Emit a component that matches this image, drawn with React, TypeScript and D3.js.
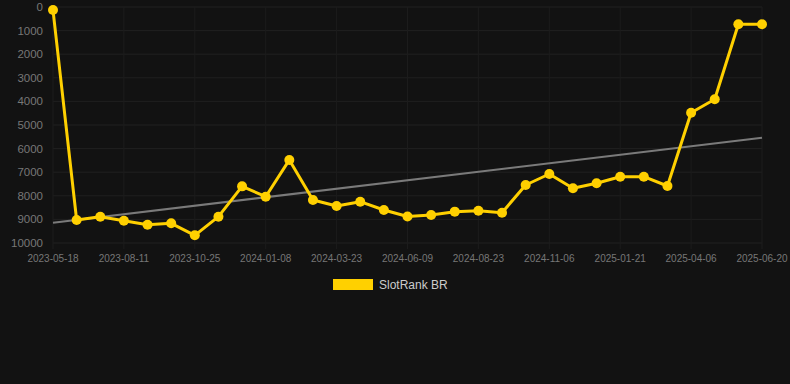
import React from "react";
import * as d3 from "d3";

const dates = [
  "2023-05-18", "2023-06-15", "2023-07-13", "2023-08-11", "2023-09-05", "2023-09-30",
  "2023-10-25", "2023-11-19", "2023-12-14", "2024-01-08", "2024-02-02", "2024-02-27",
  "2024-03-23", "2024-04-17", "2024-05-15", "2024-06-09", "2024-07-04", "2024-07-29",
  "2024-08-23", "2024-09-17", "2024-10-12", "2024-11-06", "2024-12-01", "2024-12-26",
  "2025-01-21", "2025-02-15", "2025-03-12", "2025-04-06", "2025-05-01", "2025-05-26",
  "2025-06-20",
];

const rankValues = [
  130, 9025, 8885, 9055, 9225, 9165, 9675, 8885, 7600, 8040, 6480, 8180,
  8430, 8250, 8600, 8880, 8814, 8672, 8630, 8715, 7542, 7076, 7683, 7470,
  7190, 7190, 7585, 4478, 3911, 733, 733,
];

const trendValues = [9140, 5540];

const yTicks = [0, 1000, 2000, 3000, 4000, 5000, 6000, 7000, 8000, 9000, 10000];

const seriesName = "SlotRank BR";

export default function App() {
  const W = 790, H = 384;
  const x = d3.scalePoint<string>().domain(dates).range([53, 762]);
  const y = d3.scaleLinear().domain([0, 10000]).range([7, 243]);
  const line = d3
    .line<number>()
    .x((_, i) => x(dates[i]) as number)
    .y((d) => y(d));
  const xTickDates = dates.filter((_, i) => i % 3 === 0);
  const yellow = "#ffd000";
  const font = "'Liberation Sans', Arial, sans-serif";
  return (
    <svg
      width={W}
      height={H}
      style={{ position: "absolute", left: 0, top: 0, background: "#121212" }}
      fontFamily={font}
    >
      <rect x={0} y={0} width={W} height={H} fill="#121212" />
      {yTicks.map((t) => (
        <g key={t}>
          <line x1={53} x2={762} y1={y(t)} y2={y(t)} stroke="#202020" strokeWidth={1} />
          <text x={43} y={y(t)} dy="0.35em" textAnchor="end" fill="#777" fontSize={11.5}>
            {t}
          </text>
        </g>
      ))}
      {xTickDates.map((d) => (
        <g key={d}>
          <line x1={x(d)} x2={x(d)} y1={7} y2={249} stroke="#1c1c1c" strokeWidth={1} />
          <text x={x(d)} y={262} textAnchor="middle" fill="#777" fontSize={10}>
            {d}
          </text>
        </g>
      ))}
      <line
        x1={x(dates[0])}
        x2={x(dates[dates.length - 1])}
        y1={y(trendValues[0])}
        y2={y(trendValues[1])}
        stroke="#7a7a7a"
        strokeWidth={2}
      />
      <path d={line(rankValues) || ""} fill="none" stroke={yellow} strokeWidth={3} strokeLinejoin="round" />
      {rankValues.map((v, i) => (
        <circle key={i} cx={x(dates[i])} cy={y(v)} r={5} fill={yellow} />
      ))}
      <rect x={333} y={279} width={40} height={11} fill={yellow} />
      <text x={379} y={284.5} dy="0.35em" fill="#ccc" fontSize={12}>
        {seriesName}
      </text>
    </svg>
  );
}
